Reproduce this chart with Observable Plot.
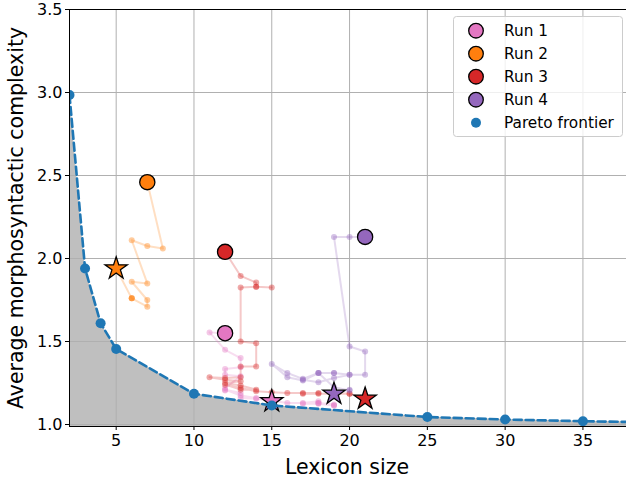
<!DOCTYPE html>
<html><head><meta charset="utf-8">
<script src="https://cdn.jsdelivr.net/npm/d3@7"></script>
<script src="https://cdn.jsdelivr.net/npm/@observablehq/plot@0.6"></script>
<style>body{margin:0;background:#fff} svg{display:block}</style>
</head><body><div id="chart"></div>
<script>
const runNames = ["Run 1", "Run 2", "Run 3", "Run 4"];
const runColors = ["#e377c2", "#ff7f0e", "#d62728", "#9467bd"];

// trajectories [lexicon size, complexity]
const run1Path = [[12,1.55],[11,1.555],[12,1.45],[13,1.40],[13,1.345],[12,1.335],[12,1.30],[13,1.29],[12,1.22],[12,1.205],[13,1.19],[12,1.21],[13,1.175],[14,1.16],[13,1.16],[14,1.155],[15,1.145],[16,1.13],[17,1.13],[18,1.14],[18,1.13],[19,1.12],[19,1.115],[18,1.13],[17,1.125],[18,1.125],[19,1.115]];
const run2Path = [[7,2.46],[8,2.06],[7,2.075],[6,2.11],[7,1.85],[6,1.86],[7,1.75],[7,1.71],[6,1.76],[6,1.76],[6,1.76],[5,1.94]];
const run3Path = [[12,2.04],[13,1.895],[14,1.855],[14,1.83],[15,1.825],[14,1.83],[13,1.825],[13,1.50],[14,1.49],[14,1.35],[13,1.35],[13,1.285],[12,1.28],[11,1.285],[12,1.27],[13,1.26],[12,1.25],[13,1.235],[14,1.21],[13,1.21],[12,1.24],[13,1.22],[14,1.20],[15,1.195],[16,1.19],[17,1.19],[18,1.19],[17,1.185],[18,1.185],[20,1.185],[19,1.19],[20,1.185],[21,1.155]];
const run4Path = [[21,2.13],[20,2.13],[19,2.13],[20,1.47],[21,1.44],[21,1.30],[20,1.30],[19,1.31],[18,1.31],[17,1.275],[16,1.31],[15,1.365],[16,1.285],[17,1.265],[18,1.31],[19,1.31],[20,1.30],[19,1.28],[18,1.255],[17,1.27],[18,1.31],[19,1.225],[20,1.205],[20,1.21],[19,1.185]];

const runStarts = [[12,1.55],[7,2.46],[12,2.04],[21,2.13]];
const runStars = [[15,1.14],[5,1.94],[21,1.155],[19,1.185]];

const paretoX = [2, 3, 4, 5, 10, 15, 25, 30, 35, 40];
const paretoY = [2.985, 1.94, 1.61, 1.455, 1.185, 1.115, 1.045, 1.03, 1.02, 1.012];

const xTicks = [5, 10, 15, 20, 25, 30, 35];
const yTicks = [1.0, 1.5, 2.0, 2.5, 3.0, 3.5];
const xDomain = [2, 37.8];
const yDomain = [0.988, 3.5];

const paths = [run1Path, run2Path, run3Path, run4Path];
const traj = paths.flatMap((p, i) => p.map(([x, y], k) => ({run: runNames[i], x, y, k})));
const starts = runStarts.map(([x, y], i) => ({run: runNames[i], x, y}));
const stars = runStars.map(([x, y], i) => ({run: runNames[i], x, y}));
const pareto = paretoX.map((x, i) => ({x, y: paretoY[i]}));

const font = "DejaVu Sans, sans-serif";

const plot = Plot.plot({
  width: 626, height: 480,
  marginLeft: 69, marginRight: 0, marginTop: 9, marginBottom: 54,
  style: {fontFamily: font, background: "#fff", overflow: "visible"},
  x: {domain: xDomain},
  y: {domain: yDomain},
  color: {domain: runNames, range: runColors},
  marks: [
    Plot.areaY(pareto, {x: "x", y1: yDomain[0], y2: "y", fill: "#bfbfbf", clip: true}),
    Plot.gridX(xTicks, {stroke: "#b0b0b0", strokeOpacity: 1, strokeWidth: 1}),
    Plot.gridY(yTicks.slice(0, 5), {stroke: "#b0b0b0", strokeOpacity: 1, strokeWidth: 1}),
    Plot.line(traj, {x: "x", y: "y", z: "run", stroke: "run", strokeOpacity: 0.25, strokeWidth: 2, curve: "linear"}),
    Plot.dot(traj, {x: "x", y: "y", fill: "run", fillOpacity: 0.4, r: 3}),
    Plot.dot(starts, {x: "x", y: "y", fill: "run", stroke: "black", strokeWidth: 1.3, r: 7.6}),
    Plot.dot(stars, {x: "x", y: "y", fill: "run", stroke: "black", strokeWidth: 1.3, r: 7, symbol: "star"}),
    Plot.line(pareto, {x: "x", y: "y", stroke: "#1f77b4", strokeWidth: 2.6, strokeDasharray: "8,4", clip: true}),
    Plot.dot(pareto, {x: "x", y: "y", fill: "#1f77b4", r: 5, clip: true}),
    Plot.ruleX([xDomain[0]], {stroke: "black", strokeWidth: 1}),
    Plot.ruleY([yDomain[0], yDomain[1]], {stroke: "black", strokeWidth: 1}),
    Plot.axisX(xTicks, {tickSize: 4, tickPadding: 4, fontSize: 16, label: null, stroke: "black"}),
    Plot.axisY(yTicks, {tickSize: 4, tickPadding: 3, fontSize: 16, label: null, tickFormat: d3.format(".1f"), stroke: "black"})
  ]
});

const svg = d3.select(plot);
svg.append("text").attr("x", 347).attr("y", 474).attr("text-anchor", "middle")
  .attr("font-family", font).attr("font-size", 20.5).attr("fill", "black").text("Lexicon size");
svg.append("text").attr("transform", "translate(23,218) rotate(-90)").attr("text-anchor", "middle")
  .attr("font-family", font).attr("font-size", 20.5).attr("fill", "black").text("Average morphosyntactic complexity");

// legend
const lg = svg.append("g");
lg.append("rect").attr("x", 453.5).attr("y", 16.5).attr("width", 169).attr("height", 120).attr("rx", 3)
  .attr("fill", "white").attr("fill-opacity", 0.8).attr("stroke", "#cccccc").attr("stroke-width", 1);
const legendItems = runNames.map((n, i) => ({label: n, color: runColors[i], big: true}))
  .concat([{label: "Pareto frontier", color: "#1f77b4", big: false}]);
legendItems.forEach((d, i) => {
  const cy = 30.7 + i * 23;
  lg.append("circle").attr("cx", 476).attr("cy", cy).attr("r", d.big ? 7.3 : 5)
    .attr("fill", d.color).attr("stroke", d.big ? "black" : "none").attr("stroke-width", 1.3);
  lg.append("text").attr("x", 504).attr("y", cy).attr("dy", "0.36em").attr("text-anchor", "start")
    .attr("font-family", font).attr("font-size", 15.3).attr("fill", "black").text(d.label);
});

document.getElementById("chart").appendChild(plot);
</script>
</body></html>
